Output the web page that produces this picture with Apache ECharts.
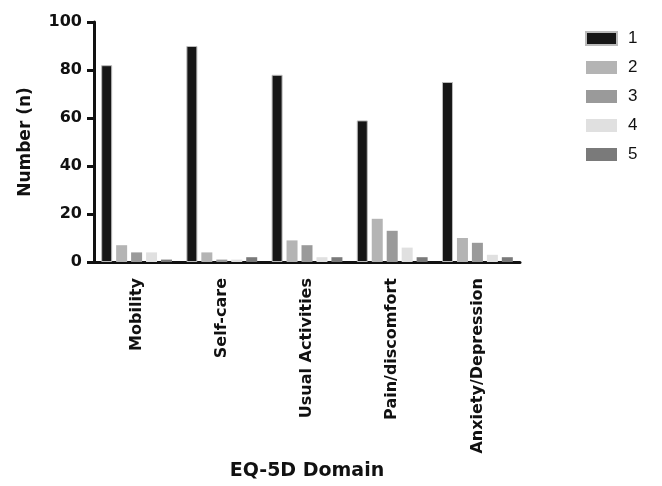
<!DOCTYPE html>
<html><head><meta charset="utf-8">
<script src="https://cdn.jsdelivr.net/npm/echarts@6/dist/echarts.min.js"></script>
<style>html,body{margin:0;padding:0;background:#fff}#c{width:662px;height:486px}</style>
</head><body><div id="c"></div>
<script>
const categories = ['Mobility','Self-care','Usual Activities','Pain/discomfort','Anxiety/Depression'];
const seriesNames = ['1','2','3','4','5'];
const s1 = [82, 90, 78, 59, 75];
const s2 = [7, 4, 9, 18, 10];
const s3 = [4, 1, 7, 13, 8];
const s4 = [4, 1, 2, 6, 3];
const s5 = [1, 2, 2, 2, 2];
const yTicks = [0, 20, 40, 60, 80, 100];
const colors = ['#161616','#b4b4b4','#9a9a9a','#e0e0e0','#7a7a7a'];
const allData = [s1, s2, s3, s4, s5];
const font = '"DejaVu Sans", Arial, sans-serif';
const chart = echarts.init(document.getElementById('c'));
chart.setOption({
  animation: false,
  color: colors,
  textStyle: {fontFamily: font},
  legend: {
    orient: 'vertical', left: 585, top: 30, padding: 0,
    itemWidth: 31, itemHeight: 13, itemGap: 12,
    icon: 'rect',
    textStyle: {fontSize: 17, lineHeight: 17, color: '#111', fontFamily: '"Liberation Sans", Arial, sans-serif', padding: [0,0,0,6]},
    data: seriesNames
  },
  grid: {left: 94, right: 142, top: 22, bottom: 218, containLabel: false},
  xAxis: {
    type: 'category', data: categories,
    name: 'EQ-5D Domain', nameLocation: 'middle', nameGap: 200,
    nameTextStyle: {fontSize: 19, fontWeight: 'bold', color: '#111', fontFamily: font},
    axisLine: {lineStyle: {color: '#111', width: 3}},
    axisTick: {alignWithLabel: true, length: 8, lineStyle: {color: '#111', width: 3}},
    axisLabel: {rotate: 90, fontSize: 16, fontWeight: 'bold', color: '#111', margin: 16, fontFamily: font, interval: 0}
  },
  yAxis: {
    type: 'value', min: yTicks[0], max: yTicks[yTicks.length-1], interval: 20,
    name: 'Number (n)', nameLocation: 'middle', nameGap: 60,
    nameTextStyle: {fontSize: 17, fontWeight: 'bold', color: '#111', fontFamily: font},
    splitLine: {show: false},
    axisLine: {show: true, lineStyle: {color: '#111', width: 3}},
    axisTick: {show: true, length: 7, lineStyle: {color: '#111', width: 3}},
    axisLabel: {fontSize: 16, fontWeight: 'bold', color: '#111', margin: 12, fontFamily: font}
  },
  series: allData.map((d, i) => ({
    name: seriesNames[i], type: 'bar', data: d,
    barWidth: 11, barGap: '36%', barCategoryGap: '16%',
    itemStyle: i === 0 ? {color: colors[i], borderColor: '#bbb', borderWidth: 1} : {color: colors[i]}
  }))
});
</script></body></html>
